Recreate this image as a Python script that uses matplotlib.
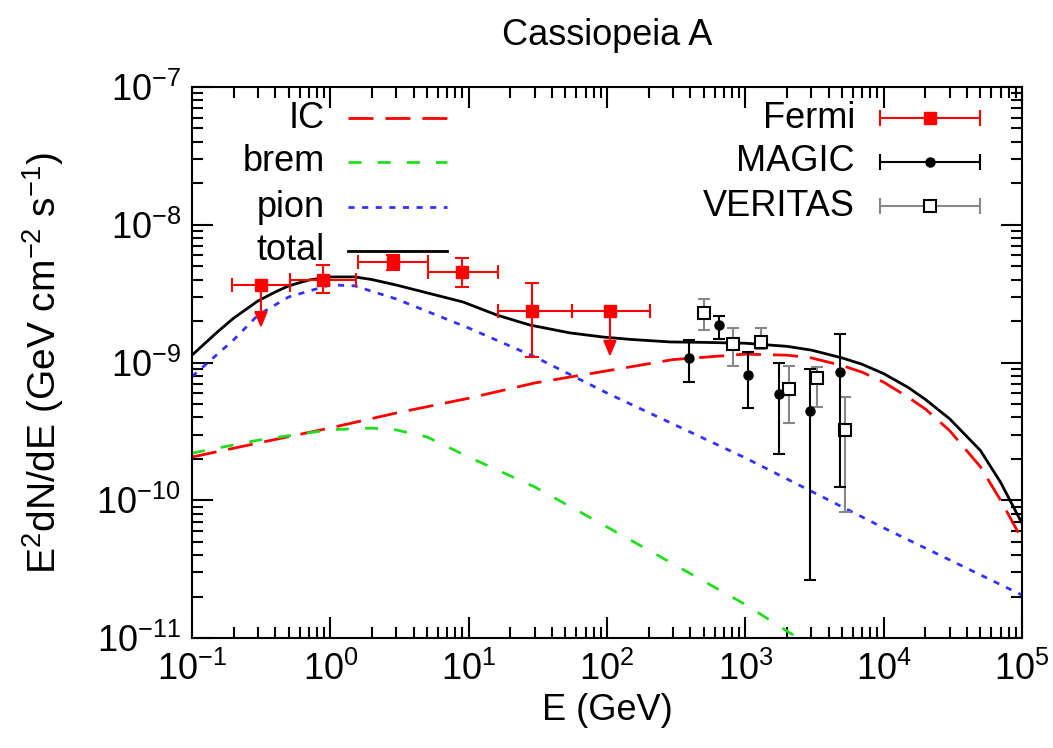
import numpy as np
import matplotlib.pyplot as plt
from matplotlib.ticker import LogLocator, NullFormatter

plt.rcParams['font.family'] = ['Liberation Sans', 'DejaVu Sans']
plt.rcParams['mathtext.fontset'] = 'custom'
plt.rcParams['mathtext.rm'] = 'Liberation Sans'
plt.rcParams['mathtext.it'] = 'Liberation Sans:italic'
plt.rcParams['mathtext.bf'] = 'Liberation Sans:bold'
plt.rcParams['axes.unicode_minus'] = False

# curvas del modelo
total_e = [0.1, 0.15, 0.2, 0.3, 0.4, 0.5, 0.7, 1, 1.5, 2, 3, 4.45, 9.1, 16,
           27.7, 54, 94, 150, 285, 500, 1000, 2000, 3000, 5000, 7000, 1e4,
           1.5e4, 2e4, 3e4, 5e4, 7e4, 1e5]
total_f = [1.13e-9, 1.64e-9, 2.1e-9, 2.8e-9, 3.25e-9, 3.6e-9, 3.97e-9,
           4.18e-9, 4.18e-9, 4.0e-9, 3.65e-9, 3.3e-9, 2.75e-9, 2.21e-9,
           1.87e-9, 1.64e-9, 1.53e-9, 1.47e-9, 1.41e-9, 1.40e-9, 1.38e-9,
           1.31e-9, 1.23e-9, 1.08e-9, 9.7e-10, 8.3e-10, 6.6e-10, 5.4e-10,
           3.9e-10, 2.3e-10, 1.35e-10, 6.8e-11]

ic_e = [0.1, 0.3, 1, 3, 10, 30, 100, 300, 1000, 2000, 3000, 5000, 7000,
        1e4, 1.5e4, 2e4, 3e4, 5e4, 7e4, 1e5]
ic_f = [2.06e-10, 2.6e-10, 3.35e-10, 4.3e-10, 5.5e-10, 7.1e-10, 8.7e-10,
        1.05e-9, 1.15e-9, 1.13e-9, 1.08e-9, 9.5e-10, 8.5e-10, 7.2e-10,
        5.6e-10, 4.6e-10, 3.2e-10, 1.75e-10, 1.0e-10, 5.2e-11]

brem_e = [0.1, 0.3, 1, 2, 3, 5, 10, 30, 100, 242, 1000, 2400, 1e4]
brem_f = [2.2e-10, 2.73e-10, 3.25e-10, 3.34e-10, 3.24e-10, 2.88e-10,
          2.06e-10, 1.25e-10, 6.4e-11, 3.9e-11, 1.75e-11, 1.0e-11, 3.8e-12]

pion_e = [0.1, 0.2, 0.3, 0.5, 0.7, 1, 1.5, 3, 10, 30, 100, 1000, 1e4, 1e5]
pion_f = [7.9e-10, 1.46e-9, 2.21e-9, 2.99e-9, 3.3e-9, 3.66e-9, 3.6e-9,
          2.89e-9, 1.78e-9, 1.10e-9, 6.0e-10, 2.03e-10, 6.3e-11, 2.05e-11]

# datos Fermi
fermi_e = np.array([0.315, 0.885, 2.84, 8.95, 28.7, 105])
fermi_f = np.array([3.66e-9, 3.97e-9, 5.37e-9, 4.54e-9, 2.37e-9, 2.37e-9])
fermi_elo = np.array([0.195, 0.51, 1.58, 5.08, 16.3, 55.8])
fermi_ehi = np.array([0.51, 1.53, 5.08, 16.3, 55.8, 205])
fermi_flo = np.array([1.78e-9, 3.2e-9, 4.7e-9, 3.53e-9, 1.10e-9, 1.10e-9])
fermi_fhi = np.array([3.66e-9, 5.1e-9, 6.0e-9, 5.74e-9, 3.78e-9, 2.37e-9])
fermi_ul = np.array([True, False, False, False, False, True])

# datos MAGIC
magic_e = np.array([392, 646, 1045, 1750, 2940, 4830])
magic_f = np.array([1.08e-9, 1.87e-9, 8.1e-10, 5.9e-10, 4.45e-10, 8.53e-10])
magic_fhi = np.array([1.46e-9, 2.18e-9, 1.19e-9, 9.9e-10, 8.97e-10, 1.61e-9])
magic_flo = np.array([7.2e-10, 1.48e-9, 4.68e-10, 2.17e-10, 2.64e-11, 1.25e-10])

# datos VERITAS
ver_e = np.array([502, 815, 1297, 2070, 3300, 5260])
ver_f = np.array([2.29e-9, 1.36e-9, 1.41e-9, 6.43e-10, 7.7e-10, 3.24e-10])
ver_fhi = np.array([2.89e-9, 1.78e-9, 1.78e-9, 9.4e-10, 9.3e-10, 5.6e-10])
ver_flo = np.array([1.72e-9, 9.4e-10, 1.25e-9, 3.64e-10, 4.75e-10, 8.2e-11])

rojo = '#ff0000'
verde = '#22dd22'
azul = '#3333ff'
gris = '#888888'

est_ic = dict(color=rojo, dashes=(9, 4.3))
est_brem = dict(color=verde, dashes=(4.7, 5.8))
est_pion = dict(color=azul, dashes=(2.2, 2.7))
est_total = dict(color='black')

fig = plt.figure(figsize=(10.53, 7.48), dpi=100)
ax = fig.add_axes([192/1053, 1-638/748, 830/1053, 551/748])

ax.plot(ic_e, ic_f, lw=2, **est_ic)
ax.plot(brem_e, brem_f, lw=2, **est_brem)
ax.plot(pion_e, pion_f, lw=2, **est_pion)
ax.plot(total_e, total_f, lw=2, **est_total)

# Fermi
ax.errorbar(fermi_e, fermi_f,
            xerr=[fermi_e - fermi_elo, fermi_ehi - fermi_e],
            fmt='s', color=rojo, ms=9, lw=1.5, capsize=5, capthick=1.5)
ok = ~fermi_ul
ax.errorbar(fermi_e[ok], fermi_f[ok],
            yerr=[fermi_f[ok] - fermi_flo[ok], fermi_fhi[ok] - fermi_f[ok]],
            fmt='none', ecolor=rojo, lw=1.5, capsize=5, capthick=1.5)
for e, f, fl in zip(fermi_e[fermi_ul], fermi_f[fermi_ul], fermi_flo[fermi_ul]):
    ax.annotate('', xy=(e, fl), xytext=(e, f),
                arrowprops=dict(arrowstyle='-|>,head_length=0.6,head_width=0.25',
                                color=rojo, lw=1.5, mutation_scale=16,
                                shrinkA=0, shrinkB=0))

# VERITAS
ax.errorbar(ver_e, ver_f, yerr=[ver_f - ver_flo, ver_fhi - ver_f],
            fmt='none', ecolor=gris, lw=1.5, capsize=4, capthick=1.5)
ax.plot(ver_e, ver_f, 's', ms=8, mfc='white', mec='black', mew=1.5)

# MAGIC
ax.errorbar(magic_e, magic_f, yerr=[magic_f - magic_flo, magic_fhi - magic_f],
            fmt='o', color='black', ms=6.5, lw=1.5, capsize=4, capthick=1.5)

ax.set_xscale('log')
ax.set_yscale('log')
ax.set_xlim(0.1, 1e5)
ax.set_ylim(1e-11, 1e-7)
ax.xaxis.set_minor_locator(LogLocator(base=10, subs=np.arange(2, 10)))
ax.yaxis.set_minor_locator(LogLocator(base=10, subs=np.arange(2, 10)))
ax.xaxis.set_minor_formatter(NullFormatter())
ax.yaxis.set_minor_formatter(NullFormatter())
ax.tick_params(which='both', direction='in', top=True, right=True,
               width=1.5, labelsize=26)
ax.tick_params(which='major', length=15)
ax.tick_params(which='minor', length=8)
ax.tick_params(axis='x', pad=10)
ax.tick_params(axis='y', pad=8)
for s in ax.spines.values():
    s.set_linewidth(1.5)

ax.set_title('Cassiopeia A', fontsize=26, pad=30)
ax.set_xlabel('E (GeV)', fontsize=26)
ax.xaxis.set_label_coords(0.5, -0.1)
ax.set_ylabel(r'E$^2$dN/dE (GeV cm$^{-2}$ s$^{-1}$)', fontsize=28)
ax.yaxis.set_label_coords(-0.152, 0.5)

# leyenda izquierda (estilo gnuplot)
tr = ax.transAxes
filas_izq = [0.9437, 0.8639, 0.7822, 0.7024]
nombres_izq = ['IC', 'brem', 'pion', 'total']
estilos = [est_ic, est_brem, est_pion, est_total]
for y, nom, est in zip(filas_izq, nombres_izq, estilos):
    ax.text(0.1602, y, nom, transform=tr, ha='right', va='center', fontsize=26)
    ax.plot([0.188, 0.307], [y, y], transform=tr, lw=2, **est)

# leyenda derecha
filas_der = [0.9437, 0.8639, 0.784]
nombres_der = ['Fermi', 'MAGIC', 'VERITAS']
colores = [rojo, 'black', gris]
marcas = [dict(marker='s', ms=9, mfc=rojo, mec=rojo),
          dict(marker='o', ms=6.5, mfc='black', mec='black'),
          dict(marker='s', ms=8, mfc='white', mec='black', mew=1.5)]
for y, nom, c, m in zip(filas_der, nombres_der, colores, marcas):
    ax.text(0.7988, y, nom, transform=tr, ha='right', va='center', fontsize=26)
    ax.plot([0.829, 0.949], [y, y], transform=tr, color=c, lw=1.5)
    ax.plot([0.829, 0.949], [y, y], transform=tr, ls='none', marker='|',
            ms=11, mew=1.5, color=c)
    ax.plot([0.889], [y], transform=tr, ls='none', **m)

fig.savefig('out.png', dpi=100)
